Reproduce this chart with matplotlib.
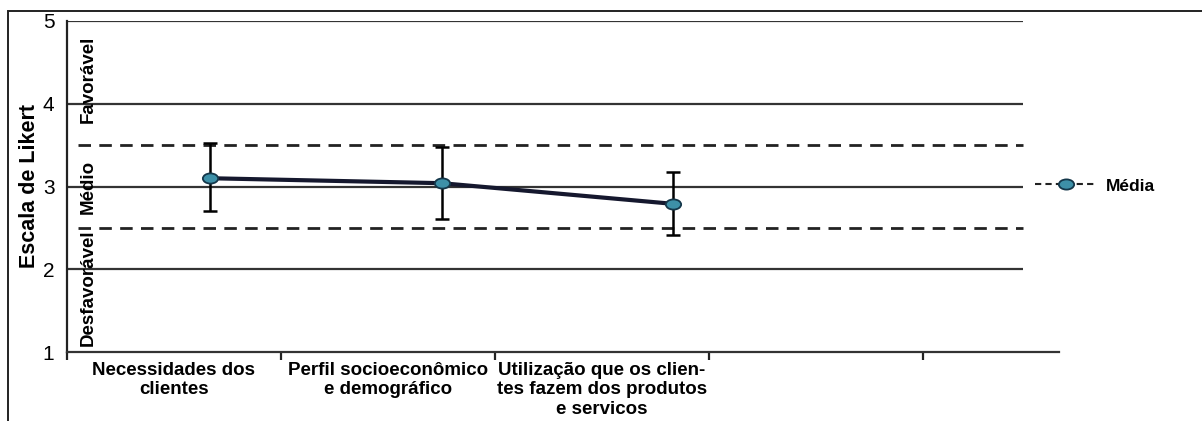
import numpy as np
import matplotlib
matplotlib.use("Agg")
import matplotlib.pyplot as plt
from matplotlib.lines import Line2D
from matplotlib.path import Path
from matplotlib.patches import Rectangle

plt.rcParams['font.family'] = ['Liberation Sans', 'DejaVu Sans']

categories = ["Necessidades dos\nclientes",
              "Perfil socioeconômico\ne demográfico",
              "Utilização que os clien-\ntes fazem dos produtos\ne servicos"]
means = [3.10, 3.04, 2.79]
upper = [3.52, 3.48, 3.18]
lower = [2.70, 2.61, 2.41]
y_ticks = [1, 2, 3, 4, 5]
solid_levels = [2, 3, 4, 5]
dashed_levels = [2.5, 3.5]
zones = ["Favorável", "Médio", "Desfavorável"]
zone_centers = [4.3, 3.0, 1.78]
legend_label = "Média"

W, H = 1202, 421
fig = plt.figure(figsize=(W / 100, H / 100), dpi=100)

# axes in pixel geometry
left, right, top, bottom = 67, 1059, 21, 352
ax = fig.add_axes([left / W, 1 - bottom / H, (right - left) / W, (bottom - top) / H])
px_per_unit = 214.0
xmax = (right - left) / px_per_unit
ax.set_xlim(0, xmax)
ax.set_ylim(1, 5)

# reference lines
line_end = (1023 - left) / px_per_unit
for lv in solid_levels:
    ax.plot([0, line_end], [lv, lv], color='#333333', lw=1.6, solid_capstyle='butt', zorder=1)
for lv in dashed_levels:
    ax.plot([0.05, line_end], [lv, lv], color='#222222', lw=2.0, dashes=(4.5, 3), zorder=1)

# points
xs = 0.668 + np.arange(len(means)) * 1.083
m = np.array(means)
yerr = [m - np.array(lower), np.array(upper) - m]
ax.errorbar(xs, m, yerr=yerr, fmt='none', ecolor='black', elinewidth=1.8,
            capsize=5, capthick=1.8, zorder=3)
ax.plot(xs, m, color='#15182e', lw=3, zorder=4)

circ = Path.unit_circle()
ell = Path(circ.vertices * np.array([1.5, 1.0]), circ.codes)
ax.plot(xs, m, linestyle='none', marker=ell, markersize=11,
        markerfacecolor='#3d90a8', markeredgecolor='#14374a', markeredgewidth=1.3, zorder=5)

# axis styling
for s in ['top', 'right']:
    ax.spines[s].set_visible(False)
ax.spines['left'].set_linewidth(1.6)
ax.spines['bottom'].set_linewidth(1.6)
ax.spines['left'].set_color('#222222')
ax.spines['bottom'].set_color('#333333')

ax.set_yticks(y_ticks)
ax.set_yticklabels([str(v) for v in y_ticks], fontsize=15)
ax.tick_params(axis='y', length=0, pad=9)

ax.set_xticks(np.arange(0, 5))
ax.set_xticklabels([])
ax.tick_params(axis='x', length=6, width=1.6, direction='out', color='#222222')
ax.set_xticks(np.arange(len(categories)) + 0.5, minor=True)
ax.set_xticklabels(categories, minor=True, fontsize=13.5, fontweight='bold', linespacing=1.2)
ax.tick_params(axis='x', which='minor', length=0, pad=7)

ax.set_ylabel("Escala de Likert", fontsize=15.5, fontweight='bold', labelpad=2)

for txt, yc in zip(zones, zone_centers):
    ax.text(0.098, yc, txt, rotation=90, fontsize=13.5, fontweight='bold',
            ha='center', va='center', zorder=6)

# legend
handle = Line2D([], [], color='#222222', lw=1.5, dashes=(3, 2), marker=ell, markersize=11,
                markerfacecolor='#3d90a8', markeredgecolor='#14374a', markeredgewidth=1.3)
fig.legend([handle], [legend_label], loc='center left',
           bbox_to_anchor=(1019 / W, 1 - 186 / H), frameon=False,
           prop={'weight': 'bold', 'size': 12.5}, handlelength=3.6, handletextpad=0.5)

# outer frame
frame = Rectangle((8 / W, -0.1), 1.2, 1.1 - 11 / H, transform=fig.transFigure,
                  fill=False, edgecolor='#222222', lw=1.4)
fig.patches.append(frame)

fig.savefig("out.png", dpi=100)
